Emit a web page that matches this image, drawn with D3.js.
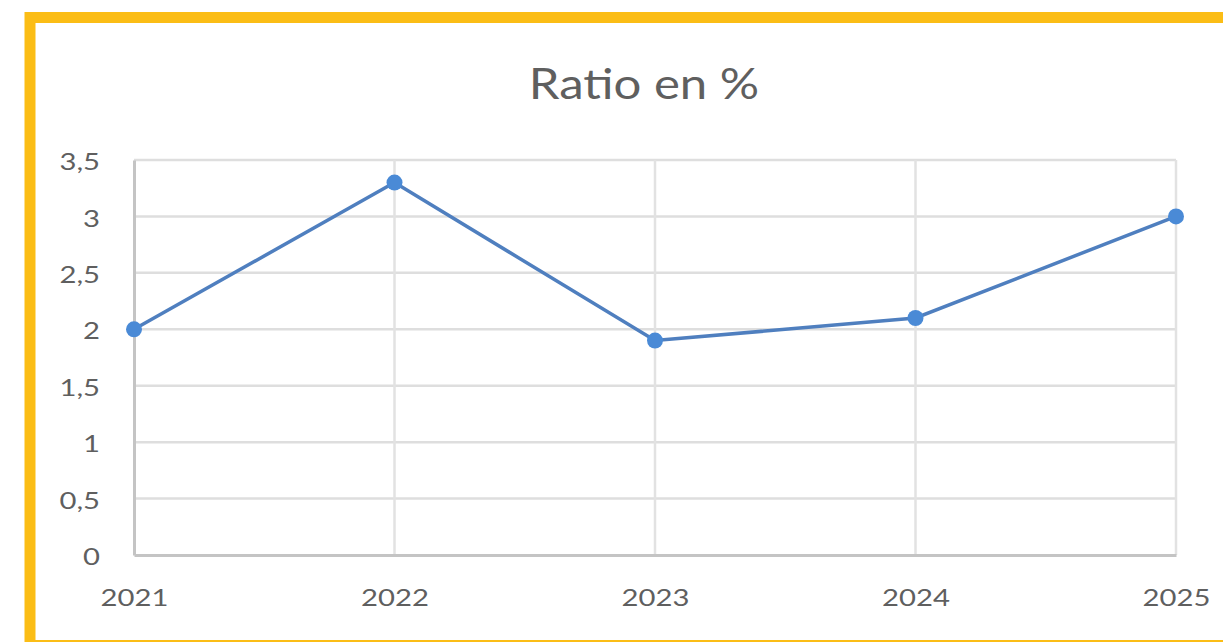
<!DOCTYPE html>
<html>
<head>
<meta charset="utf-8">
<script src="https://cdn.jsdelivr.net/npm/d3@7"></script>
<style>
  html, body { margin: 0; padding: 0; background: #fff; }
  svg { display: block; }
  text { font-family: Lato, "Open Sans", sans-serif; fill: #5f5f5f; }
</style>
</head>
<body>
<svg id="chart" width="1223" height="642"></svg>
<script>
const years = ['2021', '2022', '2023', '2024', '2025'];
const ratio = [2.0, 3.3, 1.9, 2.1, 3.0];
const yTicks = [0, 0.5, 1, 1.5, 2, 2.5, 3, 3.5];
const title = 'Ratio en %';

const svg = d3.select('#chart');
const margin = {top: 160, right: 47, bottom: 87, left: 134};
const width = +svg.attr('width') - margin.left - margin.right;
const height = +svg.attr('height') - margin.top - margin.bottom;
const stretch = 1.22; // the picture's text is a little wide

// yellow frame
svg.append('rect')
  .attr('x', 30).attr('y', 17.5)
  .attr('width', 1240).attr('height', 628)
  .attr('fill', 'none')
  .attr('stroke', '#fbbd16')
  .attr('stroke-width', 11);

svg.append('text')
  .attr('transform', 'translate(644,99) scale(1.17,1)')
  .attr('text-anchor', 'middle')
  .style('font-size', '42px')
  .text(title);

const x = d3.scalePoint().domain(years).range([0, width]);
const y = d3.scaleLinear().domain([0, 3.5]).range([height, 0]);

const g = svg.append('g')
  .attr('transform', 'translate(' + margin.left + ',' + margin.top + ')');

// horizontal grid
g.append('g')
  .selectAll('line')
  .data(yTicks.filter(d => d > 0))
  .enter().append('line')
    .attr('x1', 0).attr('x2', width)
    .attr('y1', d => y(d)).attr('y2', d => y(d))
    .attr('stroke', '#dedede')
    .attr('stroke-width', 2.5);

// vertical grid
g.append('g')
  .selectAll('line')
  .data(years.slice(1))
  .enter().append('line')
    .attr('x1', d => x(d)).attr('x2', d => x(d))
    .attr('y1', 0).attr('y2', height)
    .attr('stroke', '#e2e2e2')
    .attr('stroke-width', 2.5);

// axes
const yAxis = g.append('g')
  .call(d3.axisLeft(y).tickValues(yTicks).tickSize(0).tickPadding(34)
    .tickFormat(d => String(d).replace('.', ',')));
yAxis.select('.domain').attr('stroke', '#c4c4c4').attr('stroke-width', 3);
yAxis.selectAll('text')
  .style('font-size', '24px')
  .attr('x', -34 / stretch)
  .attr('dy', '0.4em')
  .attr('transform', 'scale(' + stretch + ',1)')
  .attr('fill', '#5f5f5f')
  .attr('font-family', null);

const xAxis = g.append('g')
  .attr('transform', 'translate(0,' + height + ')')
  .call(d3.axisBottom(x).tickSize(0).tickPadding(34));
xAxis.select('.domain').attr('stroke', '#c4c4c4').attr('stroke-width', 3);
xAxis.selectAll('text')
  .style('font-size', '24px')
  .attr('transform', 'scale(' + stretch + ',1)')
  .attr('fill', '#5f5f5f')
  .attr('font-family', null);

const line = d3.line()
  .x((d, i) => x(years[i]))
  .y(d => y(d));

g.append('path')
  .datum(ratio)
  .attr('fill', 'none')
  .attr('stroke', '#4f7fbf')
  .attr('stroke-width', 3.5)
  .attr('d', line);

g.selectAll('.dot')
  .data(ratio)
  .enter().append('circle')
    .attr('class', 'dot')
    .attr('cx', (d, i) => x(years[i]))
    .attr('cy', d => y(d))
    .attr('r', 8)
    .attr('fill', '#4a8ad6');
</script>
</body>
</html>
